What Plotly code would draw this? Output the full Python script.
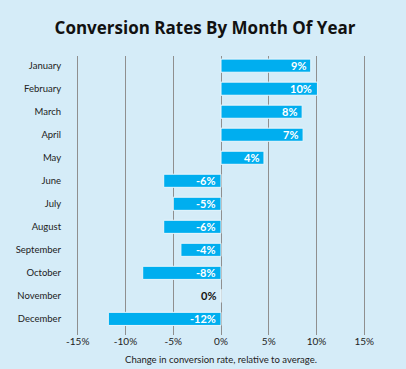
import plotly.graph_objects as go

months = ["January", "February", "March", "April", "May", "June", "July",
          "August", "September", "October", "November", "December"]
values = [9.4, 10.1, 8.5, 8.6, 4.5, -6.0, -5.0, -6.0, -4.2, -8.2, 0.0, -11.8]
labels = ["9%", "10%", "8%", "7%", "4%", "-6%", "-5%", "-6%", "-4%", "-8%", "0%", "-12%"]
tick_vals = [-15, -10, -5, 0, 5, 10, 15]
tick_text = ["-15%", "-10%", "-5%", "0%", "5%", "10%", "15%"]

BG = "#d5ecf8"
BAR = "#00aeef"
FONT = "Lato"

fig = go.Figure()
fig.add_trace(go.Bar(
    x=values, y=months, orientation="h",
    marker=dict(color=BAR, line=dict(color="#eaf6fc", width=1)),
    width=0.57, textposition="none", hoverinfo="skip",
))

for m, v, t in zip(months, values, labels):
    fig.add_annotation(
        x=max(v, 0), y=m, xref="x", yref="y", text=f"<b>{t}</b>",
        showarrow=False, xanchor="right", yanchor="middle", xshift=-3,
        font=dict(family=FONT, size=11, color="#ffffff" if v != 0 else "#111111"),
    )

fig.update_layout(
    width=406, height=369,
    paper_bgcolor=BG, plot_bgcolor=BG,
    margin=dict(l=73, r=37, t=56, b=34, autoexpand=False),
    showlegend=False,
    title=dict(text="<b>Conversion Rates By Month Of Year</b>", x=0.505, xanchor="center",
               xref="container", y=0.925, yanchor="middle", automargin=False,
               font=dict(family="Open Sans", size=17, color="#111111")),
    font=dict(family=FONT, color="#222222"),
    bargap=0.43,
)
fig.update_xaxes(
    range=[-15.5, 15.5], tickvals=tick_vals, ticktext=tick_text,
    showgrid=True, gridcolor="#8f8f8f", gridwidth=1,
    zeroline=True, zerolinecolor="#8f8f8f", zerolinewidth=1.2,
    tickfont=dict(family=FONT, size=10, color="#222222"),
    ticks="", ticklabelstandoff=-1,
    title=dict(text="Change in conversion rate, relative to average.",
               font=dict(family=FONT, size=9.5, color="#222222"), standoff=10),
    fixedrange=True, showline=False, automargin=False,
)
fig.update_yaxes(
    type="category", categoryorder="array", categoryarray=months,
    range=[11.7, -0.42], showgrid=False, zeroline=False,
    tickfont=dict(family=FONT, size=9.5, color="#222222"),
    ticks="outside", ticklen=9, tickcolor=BG,
    fixedrange=True, automargin=False,
)

fig.write_html("out.html", config={"displayModeBar": False},
               post_script="document.body.style.margin='0px';document.body.style.background='" + BG + "';")
